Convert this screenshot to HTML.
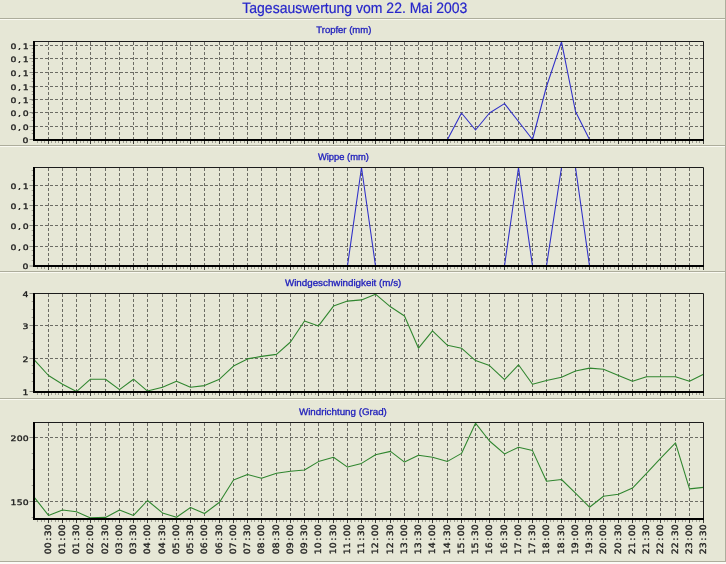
<!DOCTYPE html>
<html lang="de"><head><meta charset="utf-8"><title>Tagesauswertung vom 22. Mai 2003</title>
<style>html,body{margin:0;padding:0;background:#E6E7D6;overflow:hidden}svg{display:block}text{text-rendering:geometricPrecision}</style></head>
<body>
<svg width="726" height="564" viewBox="0 0 726 564">
<rect width="726" height="564" fill="#E6E7D6"/>
<rect x="0" y="18" width="726" height="1" fill="#ADAD9C"/>
<rect x="725" y="0" width="1" height="19" fill="#ADAD9C"/>
<rect x="0" y="19" width="726" height="1" fill="#FAFAF2"/>
<rect x="0" y="145" width="726" height="1" fill="#ADAD9C"/>
<rect x="725" y="19" width="1" height="127" fill="#ADAD9C"/>
<rect x="0" y="146" width="726" height="1" fill="#FAFAF2"/>
<rect x="0" y="271" width="726" height="1" fill="#ADAD9C"/>
<rect x="725" y="146" width="1" height="126" fill="#ADAD9C"/>
<rect x="0" y="272" width="726" height="1" fill="#FAFAF2"/>
<rect x="0" y="398" width="726" height="1" fill="#ADAD9C"/>
<rect x="725" y="272" width="1" height="127" fill="#ADAD9C"/>
<rect x="0" y="399" width="726" height="1" fill="#FAFAF2"/>
<rect x="0" y="561" width="726" height="1" fill="#ADAD9C"/>
<rect x="725" y="399" width="1" height="163" fill="#ADAD9C"/>
<rect x="0" y="562" width="726" height="2" fill="#FBFBF6"/>
<text transform="translate(354.8 13) scale(0.934 1)" text-anchor="middle" font-family="'Liberation Sans', Arial, sans-serif" font-size="15" fill="#2626CA" stroke="#2626CA" stroke-width="0.2">Tagesauswertung vom 22. Mai 2003</text>
<text transform="translate(343.8 33) scale(1.0 1)" text-anchor="middle" font-family="'Liberation Sans', Arial, sans-serif" font-size="9.5" fill="#2020BC" stroke="#2020BC" stroke-width="0.3">Tropfer (mm)</text>
<path d="M48.5 42.0V139.0M62.5 42.0V139.0M76.5 42.0V139.0M90.5 42.0V139.0M105.5 42.0V139.0M119.5 42.0V139.0M133.5 42.0V139.0M147.5 42.0V139.0M162.5 42.0V139.0M176.5 42.0V139.0M190.5 42.0V139.0M204.5 42.0V139.0M219.5 42.0V139.0M233.5 42.0V139.0M247.5 42.0V139.0M261.5 42.0V139.0M276.5 42.0V139.0M290.5 42.0V139.0M304.5 42.0V139.0M318.5 42.0V139.0M333.5 42.0V139.0M347.5 42.0V139.0M361.5 42.0V139.0M375.5 42.0V139.0M390.5 42.0V139.0M404.5 42.0V139.0M418.5 42.0V139.0M432.5 42.0V139.0M447.5 42.0V139.0M461.5 42.0V139.0M475.5 42.0V139.0M489.5 42.0V139.0M504.5 42.0V139.0M518.5 42.0V139.0M532.5 42.0V139.0M546.5 42.0V139.0M561.5 42.0V139.0M575.5 42.0V139.0M589.5 42.0V139.0M603.5 42.0V139.0M618.5 42.0V139.0M632.5 42.0V139.0M646.5 42.0V139.0M660.5 42.0V139.0M675.5 42.0V139.0M689.5 42.0V139.0M35 45.50H703.0M35 58.50H703.0M35 72.50H703.0M35 86.50H703.0M35 99.50H703.0M35 112.50H703.0M35 126.50H703.0" stroke="#6c6c64" stroke-width="1" stroke-dasharray="3 2" fill="none"/>
<path d="M37.5 141.0v2M41.5 141.0v2M44.5 141.0v2M51.5 141.0v2M55.5 141.0v2M58.5 141.0v2M66.5 141.0v2M69.5 141.0v2M73.5 141.0v2M80.5 141.0v2M83.5 141.0v2M87.5 141.0v2M94.5 141.0v2M98.5 141.0v2M101.5 141.0v2M108.5 141.0v2M112.5 141.0v2M115.5 141.0v2M123.5 141.0v2M126.5 141.0v2M130.5 141.0v2M137.5 141.0v2M140.5 141.0v2M144.5 141.0v2M151.5 141.0v2M155.5 141.0v2M158.5 141.0v2M165.5 141.0v2M169.5 141.0v2M172.5 141.0v2M180.5 141.0v2M183.5 141.0v2M187.5 141.0v2M194.5 141.0v2M197.5 141.0v2M201.5 141.0v2M208.5 141.0v2M212.5 141.0v2M215.5 141.0v2M222.5 141.0v2M226.5 141.0v2M229.5 141.0v2M236.5 141.0v2M240.5 141.0v2M244.5 141.0v2M251.5 141.0v2M254.5 141.0v2M258.5 141.0v2M265.5 141.0v2M269.5 141.0v2M272.5 141.0v2M279.5 141.0v2M283.5 141.0v2M286.5 141.0v2M293.5 141.0v2M297.5 141.0v2M301.5 141.0v2M308.5 141.0v2M311.5 141.0v2M315.5 141.0v2M322.5 141.0v2M326.5 141.0v2M329.5 141.0v2M336.5 141.0v2M340.5 141.0v2M343.5 141.0v2M350.5 141.0v2M354.5 141.0v2M358.5 141.0v2M365.5 141.0v2M368.5 141.0v2M372.5 141.0v2M379.5 141.0v2M382.5 141.0v2M386.5 141.0v2M393.5 141.0v2M397.5 141.0v2M400.5 141.0v2M407.5 141.0v2M411.5 141.0v2M415.5 141.0v2M422.5 141.0v2M425.5 141.0v2M429.5 141.0v2M436.5 141.0v2M439.5 141.0v2M443.5 141.0v2M450.5 141.0v2M454.5 141.0v2M457.5 141.0v2M464.5 141.0v2M468.5 141.0v2M472.5 141.0v2M479.5 141.0v2M482.5 141.0v2M486.5 141.0v2M493.5 141.0v2M496.5 141.0v2M500.5 141.0v2M507.5 141.0v2M511.5 141.0v2M514.5 141.0v2M521.5 141.0v2M525.5 141.0v2M529.5 141.0v2M536.5 141.0v2M539.5 141.0v2M543.5 141.0v2M550.5 141.0v2M553.5 141.0v2M557.5 141.0v2M564.5 141.0v2M568.5 141.0v2M571.5 141.0v2M578.5 141.0v2M582.5 141.0v2M585.5 141.0v2M593.5 141.0v2M596.5 141.0v2M600.5 141.0v2M607.5 141.0v2M610.5 141.0v2M614.5 141.0v2M621.5 141.0v2M625.5 141.0v2M628.5 141.0v2M635.5 141.0v2M639.5 141.0v2M642.5 141.0v2M650.5 141.0v2M653.5 141.0v2M657.5 141.0v2M664.5 141.0v2M667.5 141.0v2M671.5 141.0v2M678.5 141.0v2M682.5 141.0v2M685.5 141.0v2M692.5 141.0v2M696.5 141.0v2M699.5 141.0v2M31.7 48.5h1.3M31.7 52.5h1.3M31.7 55.5h1.3M31.7 61.5h1.3M31.7 65.5h1.3M31.7 68.5h1.3M31.7 74.5h1.3M31.7 78.5h1.3M31.7 81.5h1.3M31.7 87.5h1.3M31.7 91.5h1.3M31.7 94.5h1.3M31.7 100.5h1.3M31.7 104.5h1.3M31.7 107.5h1.3M31.7 113.5h1.3M31.7 117.5h1.3M31.7 120.5h1.3M31.7 126.5h1.3M31.7 130.5h1.3M31.7 133.5h1.3" stroke="#a0a094" stroke-width="1" fill="none"/>
<path d="M48.5 141.0v3M62.5 141.0v3M76.5 141.0v3M90.5 141.0v3M105.5 141.0v3M119.5 141.0v3M133.5 141.0v3M147.5 141.0v3M162.5 141.0v3M176.5 141.0v3M190.5 141.0v3M204.5 141.0v3M219.5 141.0v3M233.5 141.0v3M247.5 141.0v3M261.5 141.0v3M276.5 141.0v3M290.5 141.0v3M304.5 141.0v3M318.5 141.0v3M333.5 141.0v3M347.5 141.0v3M361.5 141.0v3M375.5 141.0v3M390.5 141.0v3M404.5 141.0v3M418.5 141.0v3M432.5 141.0v3M447.5 141.0v3M461.5 141.0v3M475.5 141.0v3M489.5 141.0v3M504.5 141.0v3M518.5 141.0v3M532.5 141.0v3M546.5 141.0v3M561.5 141.0v3M575.5 141.0v3M589.5 141.0v3M603.5 141.0v3M618.5 141.0v3M632.5 141.0v3M646.5 141.0v3M660.5 141.0v3M675.5 141.0v3M689.5 141.0v3M703.5 141.0v3" stroke="#3c3c38" stroke-width="1" fill="none"/>
<path d="M29.5 45.50h3.5M29.5 58.50h3.5M29.5 72.50h3.5M29.5 86.50h3.5M29.5 99.50h3.5M29.5 112.50h3.5M29.5 126.50h3.5M29.5 139.50h3.5" stroke="#88887e" stroke-width="1" fill="none"/>
<polyline points="34.5,139.5 48.5,139.5 62.5,139.5 76.5,139.5 90.5,139.5 105.5,139.5 119.5,139.5 133.5,139.5 147.5,139.5 162.5,139.5 176.5,139.5 190.5,139.5 204.5,139.5 219.5,139.5 233.5,139.5 247.5,139.5 261.5,139.5 276.5,139.5 290.5,139.5 304.5,139.5 318.5,139.5 333.5,139.5 347.5,139.5 361.5,139.5 375.5,139.5 390.5,139.5 404.5,139.5 418.5,139.5 432.5,139.5 447.5,139.5 461.5,113.0 475.5,130.0 489.5,113.0 504.5,103.6 518.5,121.5 532.5,139.5 546.5,86.5 561.5,41.8 575.5,111.5 589.5,139.5 603.5,139.5 618.5,139.5 632.5,139.5 646.5,139.5 660.5,139.5 675.5,139.5 689.5,139.5 703.5,139.5" stroke="#3030C8" stroke-width="1.085" fill="none" stroke-linejoin="round"/>
<path d="M33 41.5H703.5V140.0" stroke="#1c1c1c" stroke-width="1" fill="none"/>
<rect x="33" y="41.0" width="2" height="100.0" fill="#000"/>
<rect x="33" y="139.0" width="671.0" height="2" fill="#000"/>
<text transform="translate(10.60 48.55) scale(1.24 1)" x="0.03 6.07 9.71" font-family="'DejaVu Sans', 'Liberation Sans', sans-serif" font-size="7.5" fill="#1a1a1a" stroke="#1a1a1a" stroke-width="0.32">0,1</text>
<text transform="translate(10.60 61.55) scale(1.24 1)" x="0.03 6.07 9.71" font-family="'DejaVu Sans', 'Liberation Sans', sans-serif" font-size="7.5" fill="#1a1a1a" stroke="#1a1a1a" stroke-width="0.32">0,1</text>
<text transform="translate(10.60 75.55) scale(1.24 1)" x="0.03 6.07 9.71" font-family="'DejaVu Sans', 'Liberation Sans', sans-serif" font-size="7.5" fill="#1a1a1a" stroke="#1a1a1a" stroke-width="0.32">0,1</text>
<text transform="translate(10.60 89.55) scale(1.24 1)" x="0.03 6.07 9.71" font-family="'DejaVu Sans', 'Liberation Sans', sans-serif" font-size="7.5" fill="#1a1a1a" stroke="#1a1a1a" stroke-width="0.32">0,1</text>
<text transform="translate(10.60 102.55) scale(1.24 1)" x="0.03 6.07 9.71" font-family="'DejaVu Sans', 'Liberation Sans', sans-serif" font-size="7.5" fill="#1a1a1a" stroke="#1a1a1a" stroke-width="0.32">0,1</text>
<text transform="translate(10.60 115.55) scale(1.24 1)" x="0.03 6.07 9.71" font-family="'DejaVu Sans', 'Liberation Sans', sans-serif" font-size="7.5" fill="#1a1a1a" stroke="#1a1a1a" stroke-width="0.32">0,0</text>
<text transform="translate(10.60 129.55) scale(1.24 1)" x="0.03 6.07 9.71" font-family="'DejaVu Sans', 'Liberation Sans', sans-serif" font-size="7.5" fill="#1a1a1a" stroke="#1a1a1a" stroke-width="0.32">0,0</text>
<text transform="translate(22.60 142.55) scale(1.24 1)" x="0.03" font-family="'DejaVu Sans', 'Liberation Sans', sans-serif" font-size="7.5" fill="#1a1a1a" stroke="#1a1a1a" stroke-width="0.32">0</text>
<text transform="translate(343.4 159.8) scale(0.985 1)" text-anchor="middle" font-family="'Liberation Sans', Arial, sans-serif" font-size="9.5" fill="#2020BC" stroke="#2020BC" stroke-width="0.3">Wippe (mm)</text>
<path d="M48.5 168.0V265.0M62.5 168.0V265.0M76.5 168.0V265.0M90.5 168.0V265.0M105.5 168.0V265.0M119.5 168.0V265.0M133.5 168.0V265.0M147.5 168.0V265.0M162.5 168.0V265.0M176.5 168.0V265.0M190.5 168.0V265.0M204.5 168.0V265.0M219.5 168.0V265.0M233.5 168.0V265.0M247.5 168.0V265.0M261.5 168.0V265.0M276.5 168.0V265.0M290.5 168.0V265.0M304.5 168.0V265.0M318.5 168.0V265.0M333.5 168.0V265.0M347.5 168.0V265.0M361.5 168.0V265.0M375.5 168.0V265.0M390.5 168.0V265.0M404.5 168.0V265.0M418.5 168.0V265.0M432.5 168.0V265.0M447.5 168.0V265.0M461.5 168.0V265.0M475.5 168.0V265.0M489.5 168.0V265.0M504.5 168.0V265.0M518.5 168.0V265.0M532.5 168.0V265.0M546.5 168.0V265.0M561.5 168.0V265.0M575.5 168.0V265.0M589.5 168.0V265.0M603.5 168.0V265.0M618.5 168.0V265.0M632.5 168.0V265.0M646.5 168.0V265.0M660.5 168.0V265.0M675.5 168.0V265.0M689.5 168.0V265.0M35 185.50H703.0M35 205.50H703.0M35 225.50H703.0M35 246.50H703.0" stroke="#6c6c64" stroke-width="1" stroke-dasharray="3 2" fill="none"/>
<path d="M37.5 267.0v2M41.5 267.0v2M44.5 267.0v2M51.5 267.0v2M55.5 267.0v2M58.5 267.0v2M66.5 267.0v2M69.5 267.0v2M73.5 267.0v2M80.5 267.0v2M83.5 267.0v2M87.5 267.0v2M94.5 267.0v2M98.5 267.0v2M101.5 267.0v2M108.5 267.0v2M112.5 267.0v2M115.5 267.0v2M123.5 267.0v2M126.5 267.0v2M130.5 267.0v2M137.5 267.0v2M140.5 267.0v2M144.5 267.0v2M151.5 267.0v2M155.5 267.0v2M158.5 267.0v2M165.5 267.0v2M169.5 267.0v2M172.5 267.0v2M180.5 267.0v2M183.5 267.0v2M187.5 267.0v2M194.5 267.0v2M197.5 267.0v2M201.5 267.0v2M208.5 267.0v2M212.5 267.0v2M215.5 267.0v2M222.5 267.0v2M226.5 267.0v2M229.5 267.0v2M236.5 267.0v2M240.5 267.0v2M244.5 267.0v2M251.5 267.0v2M254.5 267.0v2M258.5 267.0v2M265.5 267.0v2M269.5 267.0v2M272.5 267.0v2M279.5 267.0v2M283.5 267.0v2M286.5 267.0v2M293.5 267.0v2M297.5 267.0v2M301.5 267.0v2M308.5 267.0v2M311.5 267.0v2M315.5 267.0v2M322.5 267.0v2M326.5 267.0v2M329.5 267.0v2M336.5 267.0v2M340.5 267.0v2M343.5 267.0v2M350.5 267.0v2M354.5 267.0v2M358.5 267.0v2M365.5 267.0v2M368.5 267.0v2M372.5 267.0v2M379.5 267.0v2M382.5 267.0v2M386.5 267.0v2M393.5 267.0v2M397.5 267.0v2M400.5 267.0v2M407.5 267.0v2M411.5 267.0v2M415.5 267.0v2M422.5 267.0v2M425.5 267.0v2M429.5 267.0v2M436.5 267.0v2M439.5 267.0v2M443.5 267.0v2M450.5 267.0v2M454.5 267.0v2M457.5 267.0v2M464.5 267.0v2M468.5 267.0v2M472.5 267.0v2M479.5 267.0v2M482.5 267.0v2M486.5 267.0v2M493.5 267.0v2M496.5 267.0v2M500.5 267.0v2M507.5 267.0v2M511.5 267.0v2M514.5 267.0v2M521.5 267.0v2M525.5 267.0v2M529.5 267.0v2M536.5 267.0v2M539.5 267.0v2M543.5 267.0v2M550.5 267.0v2M553.5 267.0v2M557.5 267.0v2M564.5 267.0v2M568.5 267.0v2M571.5 267.0v2M578.5 267.0v2M582.5 267.0v2M585.5 267.0v2M593.5 267.0v2M596.5 267.0v2M600.5 267.0v2M607.5 267.0v2M610.5 267.0v2M614.5 267.0v2M621.5 267.0v2M625.5 267.0v2M628.5 267.0v2M635.5 267.0v2M639.5 267.0v2M642.5 267.0v2M650.5 267.0v2M653.5 267.0v2M657.5 267.0v2M664.5 267.0v2M667.5 267.0v2M671.5 267.0v2M678.5 267.0v2M682.5 267.0v2M685.5 267.0v2M692.5 267.0v2M696.5 267.0v2M699.5 267.0v2M31.7 180.5h1.3M31.7 175.5h1.3M31.7 170.5h1.3M31.7 190.5h1.3M31.7 195.5h1.3M31.7 200.5h1.3M31.7 210.5h1.3M31.7 215.5h1.3M31.7 220.5h1.3M31.7 230.5h1.3M31.7 235.5h1.3M31.7 240.5h1.3M31.7 250.5h1.3M31.7 255.5h1.3M31.7 260.5h1.3" stroke="#a0a094" stroke-width="1" fill="none"/>
<path d="M48.5 267.0v3M62.5 267.0v3M76.5 267.0v3M90.5 267.0v3M105.5 267.0v3M119.5 267.0v3M133.5 267.0v3M147.5 267.0v3M162.5 267.0v3M176.5 267.0v3M190.5 267.0v3M204.5 267.0v3M219.5 267.0v3M233.5 267.0v3M247.5 267.0v3M261.5 267.0v3M276.5 267.0v3M290.5 267.0v3M304.5 267.0v3M318.5 267.0v3M333.5 267.0v3M347.5 267.0v3M361.5 267.0v3M375.5 267.0v3M390.5 267.0v3M404.5 267.0v3M418.5 267.0v3M432.5 267.0v3M447.5 267.0v3M461.5 267.0v3M475.5 267.0v3M489.5 267.0v3M504.5 267.0v3M518.5 267.0v3M532.5 267.0v3M546.5 267.0v3M561.5 267.0v3M575.5 267.0v3M589.5 267.0v3M603.5 267.0v3M618.5 267.0v3M632.5 267.0v3M646.5 267.0v3M660.5 267.0v3M675.5 267.0v3M689.5 267.0v3M703.5 267.0v3" stroke="#3c3c38" stroke-width="1" fill="none"/>
<path d="M29.5 185.50h3.5M29.5 205.50h3.5M29.5 225.50h3.5M29.5 246.50h3.5M29.5 266.00h3.5" stroke="#88887e" stroke-width="1" fill="none"/>
<polyline points="34.5,265.8 48.5,265.8 62.5,265.8 76.5,265.8 90.5,265.8 105.5,265.8 119.5,265.8 133.5,265.8 147.5,265.8 162.5,265.8 176.5,265.8 190.5,265.8 204.5,265.8 219.5,265.8 233.5,265.8 247.5,265.8 261.5,265.8 276.5,265.8 290.5,265.8 304.5,265.8 318.5,265.8 333.5,265.8 347.5,265.8 361.5,167.5 375.5,265.8 390.5,265.8 404.5,265.8 418.5,265.8 432.5,265.8 447.5,265.8 461.5,265.8 475.5,265.8 489.5,265.8 504.5,265.8 518.5,167.5 532.5,265.8 546.5,265.8 561.5,167.5 575.5,167.5 589.5,265.8 603.5,265.8 618.5,265.8 632.5,265.8 646.5,265.8 660.5,265.8 675.5,265.8 689.5,265.8 703.5,265.8" stroke="#3030C8" stroke-width="1.08" fill="none" stroke-linejoin="round"/>
<path d="M33 167.5H703.5V266.0" stroke="#1c1c1c" stroke-width="1" fill="none"/>
<rect x="33" y="167.0" width="2" height="100.0" fill="#000"/>
<rect x="33" y="265.0" width="671.0" height="2" fill="#000"/>
<text transform="translate(10.60 188.55) scale(1.24 1)" x="0.03 6.07 9.71" font-family="'DejaVu Sans', 'Liberation Sans', sans-serif" font-size="7.5" fill="#1a1a1a" stroke="#1a1a1a" stroke-width="0.32">0,1</text>
<text transform="translate(10.60 208.55) scale(1.24 1)" x="0.03 6.07 9.71" font-family="'DejaVu Sans', 'Liberation Sans', sans-serif" font-size="7.5" fill="#1a1a1a" stroke="#1a1a1a" stroke-width="0.32">0,1</text>
<text transform="translate(10.60 228.55) scale(1.24 1)" x="0.03 6.07 9.71" font-family="'DejaVu Sans', 'Liberation Sans', sans-serif" font-size="7.5" fill="#1a1a1a" stroke="#1a1a1a" stroke-width="0.32">0,0</text>
<text transform="translate(10.60 249.55) scale(1.24 1)" x="0.03 6.07 9.71" font-family="'DejaVu Sans', 'Liberation Sans', sans-serif" font-size="7.5" fill="#1a1a1a" stroke="#1a1a1a" stroke-width="0.32">0,0</text>
<text transform="translate(22.60 269.05) scale(1.24 1)" x="0.03" font-family="'DejaVu Sans', 'Liberation Sans', sans-serif" font-size="7.5" fill="#1a1a1a" stroke="#1a1a1a" stroke-width="0.32">0</text>
<text transform="translate(343.1 286) scale(1.03 1)" text-anchor="middle" font-family="'Liberation Sans', Arial, sans-serif" font-size="9.5" fill="#2020BC" stroke="#2020BC" stroke-width="0.3">Windgeschwindigkeit (m/s)</text>
<path d="M48.5 294.0V391.0M62.5 294.0V391.0M76.5 294.0V391.0M90.5 294.0V391.0M105.5 294.0V391.0M119.5 294.0V391.0M133.5 294.0V391.0M147.5 294.0V391.0M162.5 294.0V391.0M176.5 294.0V391.0M190.5 294.0V391.0M204.5 294.0V391.0M219.5 294.0V391.0M233.5 294.0V391.0M247.5 294.0V391.0M261.5 294.0V391.0M276.5 294.0V391.0M290.5 294.0V391.0M304.5 294.0V391.0M318.5 294.0V391.0M333.5 294.0V391.0M347.5 294.0V391.0M361.5 294.0V391.0M375.5 294.0V391.0M390.5 294.0V391.0M404.5 294.0V391.0M418.5 294.0V391.0M432.5 294.0V391.0M447.5 294.0V391.0M461.5 294.0V391.0M475.5 294.0V391.0M489.5 294.0V391.0M504.5 294.0V391.0M518.5 294.0V391.0M532.5 294.0V391.0M546.5 294.0V391.0M561.5 294.0V391.0M575.5 294.0V391.0M589.5 294.0V391.0M603.5 294.0V391.0M618.5 294.0V391.0M632.5 294.0V391.0M646.5 294.0V391.0M660.5 294.0V391.0M675.5 294.0V391.0M689.5 294.0V391.0M35 325.50H703.0M35 358.50H703.0" stroke="#6c6c64" stroke-width="1" stroke-dasharray="3 2" fill="none"/>
<path d="M37.5 393.0v2M41.5 393.0v2M44.5 393.0v2M51.5 393.0v2M55.5 393.0v2M58.5 393.0v2M66.5 393.0v2M69.5 393.0v2M73.5 393.0v2M80.5 393.0v2M83.5 393.0v2M87.5 393.0v2M94.5 393.0v2M98.5 393.0v2M101.5 393.0v2M108.5 393.0v2M112.5 393.0v2M115.5 393.0v2M123.5 393.0v2M126.5 393.0v2M130.5 393.0v2M137.5 393.0v2M140.5 393.0v2M144.5 393.0v2M151.5 393.0v2M155.5 393.0v2M158.5 393.0v2M165.5 393.0v2M169.5 393.0v2M172.5 393.0v2M180.5 393.0v2M183.5 393.0v2M187.5 393.0v2M194.5 393.0v2M197.5 393.0v2M201.5 393.0v2M208.5 393.0v2M212.5 393.0v2M215.5 393.0v2M222.5 393.0v2M226.5 393.0v2M229.5 393.0v2M236.5 393.0v2M240.5 393.0v2M244.5 393.0v2M251.5 393.0v2M254.5 393.0v2M258.5 393.0v2M265.5 393.0v2M269.5 393.0v2M272.5 393.0v2M279.5 393.0v2M283.5 393.0v2M286.5 393.0v2M293.5 393.0v2M297.5 393.0v2M301.5 393.0v2M308.5 393.0v2M311.5 393.0v2M315.5 393.0v2M322.5 393.0v2M326.5 393.0v2M329.5 393.0v2M336.5 393.0v2M340.5 393.0v2M343.5 393.0v2M350.5 393.0v2M354.5 393.0v2M358.5 393.0v2M365.5 393.0v2M368.5 393.0v2M372.5 393.0v2M379.5 393.0v2M382.5 393.0v2M386.5 393.0v2M393.5 393.0v2M397.5 393.0v2M400.5 393.0v2M407.5 393.0v2M411.5 393.0v2M415.5 393.0v2M422.5 393.0v2M425.5 393.0v2M429.5 393.0v2M436.5 393.0v2M439.5 393.0v2M443.5 393.0v2M450.5 393.0v2M454.5 393.0v2M457.5 393.0v2M464.5 393.0v2M468.5 393.0v2M472.5 393.0v2M479.5 393.0v2M482.5 393.0v2M486.5 393.0v2M493.5 393.0v2M496.5 393.0v2M500.5 393.0v2M507.5 393.0v2M511.5 393.0v2M514.5 393.0v2M521.5 393.0v2M525.5 393.0v2M529.5 393.0v2M536.5 393.0v2M539.5 393.0v2M543.5 393.0v2M550.5 393.0v2M553.5 393.0v2M557.5 393.0v2M564.5 393.0v2M568.5 393.0v2M571.5 393.0v2M578.5 393.0v2M582.5 393.0v2M585.5 393.0v2M593.5 393.0v2M596.5 393.0v2M600.5 393.0v2M607.5 393.0v2M610.5 393.0v2M614.5 393.0v2M621.5 393.0v2M625.5 393.0v2M628.5 393.0v2M635.5 393.0v2M639.5 393.0v2M642.5 393.0v2M650.5 393.0v2M653.5 393.0v2M657.5 393.0v2M664.5 393.0v2M667.5 393.0v2M671.5 393.0v2M678.5 393.0v2M682.5 393.0v2M685.5 393.0v2M692.5 393.0v2M696.5 393.0v2M699.5 393.0v2M31.7 301.5h1.3M31.7 309.5h1.3M31.7 317.5h1.3M31.7 333.5h1.3M31.7 341.5h1.3M31.7 349.5h1.3M31.7 365.5h1.3M31.7 373.5h1.3M31.7 381.5h1.3" stroke="#a0a094" stroke-width="1" fill="none"/>
<path d="M48.5 393.0v3M62.5 393.0v3M76.5 393.0v3M90.5 393.0v3M105.5 393.0v3M119.5 393.0v3M133.5 393.0v3M147.5 393.0v3M162.5 393.0v3M176.5 393.0v3M190.5 393.0v3M204.5 393.0v3M219.5 393.0v3M233.5 393.0v3M247.5 393.0v3M261.5 393.0v3M276.5 393.0v3M290.5 393.0v3M304.5 393.0v3M318.5 393.0v3M333.5 393.0v3M347.5 393.0v3M361.5 393.0v3M375.5 393.0v3M390.5 393.0v3M404.5 393.0v3M418.5 393.0v3M432.5 393.0v3M447.5 393.0v3M461.5 393.0v3M475.5 393.0v3M489.5 393.0v3M504.5 393.0v3M518.5 393.0v3M532.5 393.0v3M546.5 393.0v3M561.5 393.0v3M575.5 393.0v3M589.5 393.0v3M603.5 393.0v3M618.5 393.0v3M632.5 393.0v3M646.5 393.0v3M660.5 393.0v3M675.5 393.0v3M689.5 393.0v3M703.5 393.0v3" stroke="#3c3c38" stroke-width="1" fill="none"/>
<path d="M29.5 293.50h3.5M29.5 325.50h3.5M29.5 358.50h3.5M29.5 391.50h3.5" stroke="#88887e" stroke-width="1" fill="none"/>
<polyline points="34.5,360.1 48.5,375.5 62.5,384.2 76.5,391.6 90.5,379.2 105.5,379.2 119.5,389.6 133.5,379.2 147.5,391.1 162.5,387.2 176.5,381.2 190.5,387.2 204.5,385.6 219.5,379.2 233.5,366.1 247.5,358.9 261.5,356.4 276.5,354.4 290.5,342.0 304.5,321.0 318.5,325.9 333.5,306.1 347.5,301.1 361.5,299.9 375.5,294.2 390.5,306.8 404.5,316.0 418.5,348.2 432.5,330.9 447.5,345.3 461.5,348.2 475.5,360.6 489.5,365.6 504.5,379.7 518.5,364.8 532.5,384.2 546.5,380.5 561.5,377.2 575.5,371.0 589.5,368.1 603.5,369.3 618.5,375.5 632.5,381.2 646.5,376.7 660.5,376.7 675.5,376.7 689.5,381.2 703.5,374.3" stroke="#30862F" stroke-width="1.08" fill="none" stroke-linejoin="round"/>
<path d="M33 293.5H703.5V392.0" stroke="#1c1c1c" stroke-width="1" fill="none"/>
<rect x="33" y="293.0" width="2" height="100.0" fill="#000"/>
<rect x="33" y="391.0" width="671.0" height="2" fill="#000"/>
<text transform="translate(22.60 296.55) scale(1.24 1)" x="0.03" font-family="'DejaVu Sans', 'Liberation Sans', sans-serif" font-size="7.5" fill="#1a1a1a" stroke="#1a1a1a" stroke-width="0.32">4</text>
<text transform="translate(22.60 328.55) scale(1.24 1)" x="0.03" font-family="'DejaVu Sans', 'Liberation Sans', sans-serif" font-size="7.5" fill="#1a1a1a" stroke="#1a1a1a" stroke-width="0.32">3</text>
<text transform="translate(22.60 361.55) scale(1.24 1)" x="0.03" font-family="'DejaVu Sans', 'Liberation Sans', sans-serif" font-size="7.5" fill="#1a1a1a" stroke="#1a1a1a" stroke-width="0.32">2</text>
<text transform="translate(22.60 394.55) scale(1.24 1)" x="0.03" font-family="'DejaVu Sans', 'Liberation Sans', sans-serif" font-size="7.5" fill="#1a1a1a" stroke="#1a1a1a" stroke-width="0.32">1</text>
<text transform="translate(342.9 415) scale(1.027 1)" text-anchor="middle" font-family="'Liberation Sans', Arial, sans-serif" font-size="9.5" fill="#2020BC" stroke="#2020BC" stroke-width="0.3">Windrichtung (Grad)</text>
<path d="M48.5 423.0V518.0M62.5 423.0V518.0M76.5 423.0V518.0M90.5 423.0V518.0M105.5 423.0V518.0M119.5 423.0V518.0M133.5 423.0V518.0M147.5 423.0V518.0M162.5 423.0V518.0M176.5 423.0V518.0M190.5 423.0V518.0M204.5 423.0V518.0M219.5 423.0V518.0M233.5 423.0V518.0M247.5 423.0V518.0M261.5 423.0V518.0M276.5 423.0V518.0M290.5 423.0V518.0M304.5 423.0V518.0M318.5 423.0V518.0M333.5 423.0V518.0M347.5 423.0V518.0M361.5 423.0V518.0M375.5 423.0V518.0M390.5 423.0V518.0M404.5 423.0V518.0M418.5 423.0V518.0M432.5 423.0V518.0M447.5 423.0V518.0M461.5 423.0V518.0M475.5 423.0V518.0M489.5 423.0V518.0M504.5 423.0V518.0M518.5 423.0V518.0M532.5 423.0V518.0M546.5 423.0V518.0M561.5 423.0V518.0M575.5 423.0V518.0M589.5 423.0V518.0M603.5 423.0V518.0M618.5 423.0V518.0M632.5 423.0V518.0M646.5 423.0V518.0M660.5 423.0V518.0M675.5 423.0V518.0M689.5 423.0V518.0M35 437.50H703.0M35 501.50H703.0" stroke="#6c6c64" stroke-width="1" stroke-dasharray="3 2" fill="none"/>
<path d="M37.5 520.0v2M41.5 520.0v2M44.5 520.0v2M51.5 520.0v2M55.5 520.0v2M58.5 520.0v2M66.5 520.0v2M69.5 520.0v2M73.5 520.0v2M80.5 520.0v2M83.5 520.0v2M87.5 520.0v2M94.5 520.0v2M98.5 520.0v2M101.5 520.0v2M108.5 520.0v2M112.5 520.0v2M115.5 520.0v2M123.5 520.0v2M126.5 520.0v2M130.5 520.0v2M137.5 520.0v2M140.5 520.0v2M144.5 520.0v2M151.5 520.0v2M155.5 520.0v2M158.5 520.0v2M165.5 520.0v2M169.5 520.0v2M172.5 520.0v2M180.5 520.0v2M183.5 520.0v2M187.5 520.0v2M194.5 520.0v2M197.5 520.0v2M201.5 520.0v2M208.5 520.0v2M212.5 520.0v2M215.5 520.0v2M222.5 520.0v2M226.5 520.0v2M229.5 520.0v2M236.5 520.0v2M240.5 520.0v2M244.5 520.0v2M251.5 520.0v2M254.5 520.0v2M258.5 520.0v2M265.5 520.0v2M269.5 520.0v2M272.5 520.0v2M279.5 520.0v2M283.5 520.0v2M286.5 520.0v2M293.5 520.0v2M297.5 520.0v2M301.5 520.0v2M308.5 520.0v2M311.5 520.0v2M315.5 520.0v2M322.5 520.0v2M326.5 520.0v2M329.5 520.0v2M336.5 520.0v2M340.5 520.0v2M343.5 520.0v2M350.5 520.0v2M354.5 520.0v2M358.5 520.0v2M365.5 520.0v2M368.5 520.0v2M372.5 520.0v2M379.5 520.0v2M382.5 520.0v2M386.5 520.0v2M393.5 520.0v2M397.5 520.0v2M400.5 520.0v2M407.5 520.0v2M411.5 520.0v2M415.5 520.0v2M422.5 520.0v2M425.5 520.0v2M429.5 520.0v2M436.5 520.0v2M439.5 520.0v2M443.5 520.0v2M450.5 520.0v2M454.5 520.0v2M457.5 520.0v2M464.5 520.0v2M468.5 520.0v2M472.5 520.0v2M479.5 520.0v2M482.5 520.0v2M486.5 520.0v2M493.5 520.0v2M496.5 520.0v2M500.5 520.0v2M507.5 520.0v2M511.5 520.0v2M514.5 520.0v2M521.5 520.0v2M525.5 520.0v2M529.5 520.0v2M536.5 520.0v2M539.5 520.0v2M543.5 520.0v2M550.5 520.0v2M553.5 520.0v2M557.5 520.0v2M564.5 520.0v2M568.5 520.0v2M571.5 520.0v2M578.5 520.0v2M582.5 520.0v2M585.5 520.0v2M593.5 520.0v2M596.5 520.0v2M600.5 520.0v2M607.5 520.0v2M610.5 520.0v2M614.5 520.0v2M621.5 520.0v2M625.5 520.0v2M628.5 520.0v2M635.5 520.0v2M639.5 520.0v2M642.5 520.0v2M650.5 520.0v2M653.5 520.0v2M657.5 520.0v2M664.5 520.0v2M667.5 520.0v2M671.5 520.0v2M678.5 520.0v2M682.5 520.0v2M685.5 520.0v2M692.5 520.0v2M696.5 520.0v2M699.5 520.0v2M31.7 453.5h1.3M31.7 469.5h1.3M31.7 485.5h1.3M31.7 517.5h1.3" stroke="#a0a094" stroke-width="1" fill="none"/>
<path d="M48.5 520.0v3M62.5 520.0v3M76.5 520.0v3M90.5 520.0v3M105.5 520.0v3M119.5 520.0v3M133.5 520.0v3M147.5 520.0v3M162.5 520.0v3M176.5 520.0v3M190.5 520.0v3M204.5 520.0v3M219.5 520.0v3M233.5 520.0v3M247.5 520.0v3M261.5 520.0v3M276.5 520.0v3M290.5 520.0v3M304.5 520.0v3M318.5 520.0v3M333.5 520.0v3M347.5 520.0v3M361.5 520.0v3M375.5 520.0v3M390.5 520.0v3M404.5 520.0v3M418.5 520.0v3M432.5 520.0v3M447.5 520.0v3M461.5 520.0v3M475.5 520.0v3M489.5 520.0v3M504.5 520.0v3M518.5 520.0v3M532.5 520.0v3M546.5 520.0v3M561.5 520.0v3M575.5 520.0v3M589.5 520.0v3M603.5 520.0v3M618.5 520.0v3M632.5 520.0v3M646.5 520.0v3M660.5 520.0v3M675.5 520.0v3M689.5 520.0v3M703.5 520.0v3" stroke="#3c3c38" stroke-width="1" fill="none"/>
<path d="M29.5 437.50h3.5M29.5 501.50h3.5" stroke="#88887e" stroke-width="1" fill="none"/>
<polyline points="34.5,497.6 48.5,515.4 62.5,510.0 76.5,511.7 90.5,517.9 105.5,517.4 119.5,510.0 133.5,515.4 147.5,500.5 162.5,512.9 176.5,517.2 190.5,507.5 204.5,513.5 219.5,502.3 233.5,480.0 247.5,474.5 261.5,478.2 276.5,473.3 290.5,471.3 304.5,470.0 318.5,461.6 333.5,457.2 347.5,467.1 361.5,463.4 375.5,454.7 390.5,451.4 404.5,462.1 418.5,455.2 432.5,457.2 447.5,461.4 461.5,453.4 475.5,423.2 489.5,441.0 504.5,453.9 518.5,447.2 532.5,450.6 546.5,481.2 561.5,479.5 575.5,493.1 589.5,507.2 603.5,496.3 618.5,494.3 632.5,488.1 646.5,473.3 660.5,458.4 675.5,442.8 689.5,488.9 703.5,487.4" stroke="#30862F" stroke-width="1.08" fill="none" stroke-linejoin="round"/>
<path d="M33 422.5H703.5V519.0" stroke="#1c1c1c" stroke-width="1" fill="none"/>
<rect x="33" y="422.0" width="2" height="98.0" fill="#000"/>
<rect x="33" y="518.0" width="671.0" height="2" fill="#000"/>
<text transform="translate(10.60 440.55) scale(1.24 1)" x="0.03 4.87 9.71" font-family="'DejaVu Sans', 'Liberation Sans', sans-serif" font-size="7.5" fill="#1a1a1a" stroke="#1a1a1a" stroke-width="0.32">200</text>
<text transform="translate(10.60 504.55) scale(1.24 1)" x="0.03 4.87 9.71" font-family="'DejaVu Sans', 'Liberation Sans', sans-serif" font-size="7.5" fill="#1a1a1a" stroke="#1a1a1a" stroke-width="0.32">150</text>
<text transform="translate(50.80 554.3) rotate(-90) scale(1.07 1)" x="0.04 5.64 12.55 16.86 22.47" font-family="'DejaVu Sans', 'Liberation Sans', sans-serif" font-size="8.7" fill="#1a1a1a" stroke="#1a1a1a" stroke-width="0.32">00:30</text>
<text transform="translate(64.80 554.3) rotate(-90) scale(1.07 1)" x="0.04 5.64 12.55 16.86 22.47" font-family="'DejaVu Sans', 'Liberation Sans', sans-serif" font-size="8.7" fill="#1a1a1a" stroke="#1a1a1a" stroke-width="0.32">01:00</text>
<text transform="translate(78.80 554.3) rotate(-90) scale(1.07 1)" x="0.04 5.64 12.55 16.86 22.47" font-family="'DejaVu Sans', 'Liberation Sans', sans-serif" font-size="8.7" fill="#1a1a1a" stroke="#1a1a1a" stroke-width="0.32">01:30</text>
<text transform="translate(92.80 554.3) rotate(-90) scale(1.07 1)" x="0.04 5.64 12.55 16.86 22.47" font-family="'DejaVu Sans', 'Liberation Sans', sans-serif" font-size="8.7" fill="#1a1a1a" stroke="#1a1a1a" stroke-width="0.32">02:00</text>
<text transform="translate(107.80 554.3) rotate(-90) scale(1.07 1)" x="0.04 5.64 12.55 16.86 22.47" font-family="'DejaVu Sans', 'Liberation Sans', sans-serif" font-size="8.7" fill="#1a1a1a" stroke="#1a1a1a" stroke-width="0.32">02:30</text>
<text transform="translate(121.80 554.3) rotate(-90) scale(1.07 1)" x="0.04 5.64 12.55 16.86 22.47" font-family="'DejaVu Sans', 'Liberation Sans', sans-serif" font-size="8.7" fill="#1a1a1a" stroke="#1a1a1a" stroke-width="0.32">03:00</text>
<text transform="translate(135.80 554.3) rotate(-90) scale(1.07 1)" x="0.04 5.64 12.55 16.86 22.47" font-family="'DejaVu Sans', 'Liberation Sans', sans-serif" font-size="8.7" fill="#1a1a1a" stroke="#1a1a1a" stroke-width="0.32">03:30</text>
<text transform="translate(149.80 554.3) rotate(-90) scale(1.07 1)" x="0.04 5.64 12.55 16.86 22.47" font-family="'DejaVu Sans', 'Liberation Sans', sans-serif" font-size="8.7" fill="#1a1a1a" stroke="#1a1a1a" stroke-width="0.32">04:00</text>
<text transform="translate(164.80 554.3) rotate(-90) scale(1.07 1)" x="0.04 5.64 12.55 16.86 22.47" font-family="'DejaVu Sans', 'Liberation Sans', sans-serif" font-size="8.7" fill="#1a1a1a" stroke="#1a1a1a" stroke-width="0.32">04:30</text>
<text transform="translate(178.80 554.3) rotate(-90) scale(1.07 1)" x="0.04 5.64 12.55 16.86 22.47" font-family="'DejaVu Sans', 'Liberation Sans', sans-serif" font-size="8.7" fill="#1a1a1a" stroke="#1a1a1a" stroke-width="0.32">05:00</text>
<text transform="translate(192.80 554.3) rotate(-90) scale(1.07 1)" x="0.04 5.64 12.55 16.86 22.47" font-family="'DejaVu Sans', 'Liberation Sans', sans-serif" font-size="8.7" fill="#1a1a1a" stroke="#1a1a1a" stroke-width="0.32">05:30</text>
<text transform="translate(206.80 554.3) rotate(-90) scale(1.07 1)" x="0.04 5.64 12.55 16.86 22.47" font-family="'DejaVu Sans', 'Liberation Sans', sans-serif" font-size="8.7" fill="#1a1a1a" stroke="#1a1a1a" stroke-width="0.32">06:00</text>
<text transform="translate(221.80 554.3) rotate(-90) scale(1.07 1)" x="0.04 5.64 12.55 16.86 22.47" font-family="'DejaVu Sans', 'Liberation Sans', sans-serif" font-size="8.7" fill="#1a1a1a" stroke="#1a1a1a" stroke-width="0.32">06:30</text>
<text transform="translate(235.80 554.3) rotate(-90) scale(1.07 1)" x="0.04 5.64 12.55 16.86 22.47" font-family="'DejaVu Sans', 'Liberation Sans', sans-serif" font-size="8.7" fill="#1a1a1a" stroke="#1a1a1a" stroke-width="0.32">07:00</text>
<text transform="translate(249.80 554.3) rotate(-90) scale(1.07 1)" x="0.04 5.64 12.55 16.86 22.47" font-family="'DejaVu Sans', 'Liberation Sans', sans-serif" font-size="8.7" fill="#1a1a1a" stroke="#1a1a1a" stroke-width="0.32">07:30</text>
<text transform="translate(263.80 554.3) rotate(-90) scale(1.07 1)" x="0.04 5.64 12.55 16.86 22.47" font-family="'DejaVu Sans', 'Liberation Sans', sans-serif" font-size="8.7" fill="#1a1a1a" stroke="#1a1a1a" stroke-width="0.32">08:00</text>
<text transform="translate(278.80 554.3) rotate(-90) scale(1.07 1)" x="0.04 5.64 12.55 16.86 22.47" font-family="'DejaVu Sans', 'Liberation Sans', sans-serif" font-size="8.7" fill="#1a1a1a" stroke="#1a1a1a" stroke-width="0.32">08:30</text>
<text transform="translate(292.80 554.3) rotate(-90) scale(1.07 1)" x="0.04 5.64 12.55 16.86 22.47" font-family="'DejaVu Sans', 'Liberation Sans', sans-serif" font-size="8.7" fill="#1a1a1a" stroke="#1a1a1a" stroke-width="0.32">09:00</text>
<text transform="translate(306.80 554.3) rotate(-90) scale(1.07 1)" x="0.04 5.64 12.55 16.86 22.47" font-family="'DejaVu Sans', 'Liberation Sans', sans-serif" font-size="8.7" fill="#1a1a1a" stroke="#1a1a1a" stroke-width="0.32">09:30</text>
<text transform="translate(320.80 554.3) rotate(-90) scale(1.07 1)" x="0.04 5.64 12.55 16.86 22.47" font-family="'DejaVu Sans', 'Liberation Sans', sans-serif" font-size="8.7" fill="#1a1a1a" stroke="#1a1a1a" stroke-width="0.32">10:00</text>
<text transform="translate(335.80 554.3) rotate(-90) scale(1.07 1)" x="0.04 5.64 12.55 16.86 22.47" font-family="'DejaVu Sans', 'Liberation Sans', sans-serif" font-size="8.7" fill="#1a1a1a" stroke="#1a1a1a" stroke-width="0.32">10:30</text>
<text transform="translate(349.80 554.3) rotate(-90) scale(1.07 1)" x="0.04 5.64 12.55 16.86 22.47" font-family="'DejaVu Sans', 'Liberation Sans', sans-serif" font-size="8.7" fill="#1a1a1a" stroke="#1a1a1a" stroke-width="0.32">11:00</text>
<text transform="translate(363.80 554.3) rotate(-90) scale(1.07 1)" x="0.04 5.64 12.55 16.86 22.47" font-family="'DejaVu Sans', 'Liberation Sans', sans-serif" font-size="8.7" fill="#1a1a1a" stroke="#1a1a1a" stroke-width="0.32">11:30</text>
<text transform="translate(377.80 554.3) rotate(-90) scale(1.07 1)" x="0.04 5.64 12.55 16.86 22.47" font-family="'DejaVu Sans', 'Liberation Sans', sans-serif" font-size="8.7" fill="#1a1a1a" stroke="#1a1a1a" stroke-width="0.32">12:00</text>
<text transform="translate(392.80 554.3) rotate(-90) scale(1.07 1)" x="0.04 5.64 12.55 16.86 22.47" font-family="'DejaVu Sans', 'Liberation Sans', sans-serif" font-size="8.7" fill="#1a1a1a" stroke="#1a1a1a" stroke-width="0.32">12:30</text>
<text transform="translate(406.80 554.3) rotate(-90) scale(1.07 1)" x="0.04 5.64 12.55 16.86 22.47" font-family="'DejaVu Sans', 'Liberation Sans', sans-serif" font-size="8.7" fill="#1a1a1a" stroke="#1a1a1a" stroke-width="0.32">13:00</text>
<text transform="translate(420.80 554.3) rotate(-90) scale(1.07 1)" x="0.04 5.64 12.55 16.86 22.47" font-family="'DejaVu Sans', 'Liberation Sans', sans-serif" font-size="8.7" fill="#1a1a1a" stroke="#1a1a1a" stroke-width="0.32">13:30</text>
<text transform="translate(434.80 554.3) rotate(-90) scale(1.07 1)" x="0.04 5.64 12.55 16.86 22.47" font-family="'DejaVu Sans', 'Liberation Sans', sans-serif" font-size="8.7" fill="#1a1a1a" stroke="#1a1a1a" stroke-width="0.32">14:00</text>
<text transform="translate(449.80 554.3) rotate(-90) scale(1.07 1)" x="0.04 5.64 12.55 16.86 22.47" font-family="'DejaVu Sans', 'Liberation Sans', sans-serif" font-size="8.7" fill="#1a1a1a" stroke="#1a1a1a" stroke-width="0.32">14:30</text>
<text transform="translate(463.80 554.3) rotate(-90) scale(1.07 1)" x="0.04 5.64 12.55 16.86 22.47" font-family="'DejaVu Sans', 'Liberation Sans', sans-serif" font-size="8.7" fill="#1a1a1a" stroke="#1a1a1a" stroke-width="0.32">15:00</text>
<text transform="translate(477.80 554.3) rotate(-90) scale(1.07 1)" x="0.04 5.64 12.55 16.86 22.47" font-family="'DejaVu Sans', 'Liberation Sans', sans-serif" font-size="8.7" fill="#1a1a1a" stroke="#1a1a1a" stroke-width="0.32">15:30</text>
<text transform="translate(491.80 554.3) rotate(-90) scale(1.07 1)" x="0.04 5.64 12.55 16.86 22.47" font-family="'DejaVu Sans', 'Liberation Sans', sans-serif" font-size="8.7" fill="#1a1a1a" stroke="#1a1a1a" stroke-width="0.32">16:00</text>
<text transform="translate(506.80 554.3) rotate(-90) scale(1.07 1)" x="0.04 5.64 12.55 16.86 22.47" font-family="'DejaVu Sans', 'Liberation Sans', sans-serif" font-size="8.7" fill="#1a1a1a" stroke="#1a1a1a" stroke-width="0.32">16:30</text>
<text transform="translate(520.80 554.3) rotate(-90) scale(1.07 1)" x="0.04 5.64 12.55 16.86 22.47" font-family="'DejaVu Sans', 'Liberation Sans', sans-serif" font-size="8.7" fill="#1a1a1a" stroke="#1a1a1a" stroke-width="0.32">17:00</text>
<text transform="translate(534.80 554.3) rotate(-90) scale(1.07 1)" x="0.04 5.64 12.55 16.86 22.47" font-family="'DejaVu Sans', 'Liberation Sans', sans-serif" font-size="8.7" fill="#1a1a1a" stroke="#1a1a1a" stroke-width="0.32">17:30</text>
<text transform="translate(548.80 554.3) rotate(-90) scale(1.07 1)" x="0.04 5.64 12.55 16.86 22.47" font-family="'DejaVu Sans', 'Liberation Sans', sans-serif" font-size="8.7" fill="#1a1a1a" stroke="#1a1a1a" stroke-width="0.32">18:00</text>
<text transform="translate(563.80 554.3) rotate(-90) scale(1.07 1)" x="0.04 5.64 12.55 16.86 22.47" font-family="'DejaVu Sans', 'Liberation Sans', sans-serif" font-size="8.7" fill="#1a1a1a" stroke="#1a1a1a" stroke-width="0.32">18:30</text>
<text transform="translate(577.80 554.3) rotate(-90) scale(1.07 1)" x="0.04 5.64 12.55 16.86 22.47" font-family="'DejaVu Sans', 'Liberation Sans', sans-serif" font-size="8.7" fill="#1a1a1a" stroke="#1a1a1a" stroke-width="0.32">19:00</text>
<text transform="translate(591.80 554.3) rotate(-90) scale(1.07 1)" x="0.04 5.64 12.55 16.86 22.47" font-family="'DejaVu Sans', 'Liberation Sans', sans-serif" font-size="8.7" fill="#1a1a1a" stroke="#1a1a1a" stroke-width="0.32">19:30</text>
<text transform="translate(605.80 554.3) rotate(-90) scale(1.07 1)" x="0.04 5.64 12.55 16.86 22.47" font-family="'DejaVu Sans', 'Liberation Sans', sans-serif" font-size="8.7" fill="#1a1a1a" stroke="#1a1a1a" stroke-width="0.32">20:00</text>
<text transform="translate(620.80 554.3) rotate(-90) scale(1.07 1)" x="0.04 5.64 12.55 16.86 22.47" font-family="'DejaVu Sans', 'Liberation Sans', sans-serif" font-size="8.7" fill="#1a1a1a" stroke="#1a1a1a" stroke-width="0.32">20:30</text>
<text transform="translate(634.80 554.3) rotate(-90) scale(1.07 1)" x="0.04 5.64 12.55 16.86 22.47" font-family="'DejaVu Sans', 'Liberation Sans', sans-serif" font-size="8.7" fill="#1a1a1a" stroke="#1a1a1a" stroke-width="0.32">21:00</text>
<text transform="translate(648.80 554.3) rotate(-90) scale(1.07 1)" x="0.04 5.64 12.55 16.86 22.47" font-family="'DejaVu Sans', 'Liberation Sans', sans-serif" font-size="8.7" fill="#1a1a1a" stroke="#1a1a1a" stroke-width="0.32">21:30</text>
<text transform="translate(662.80 554.3) rotate(-90) scale(1.07 1)" x="0.04 5.64 12.55 16.86 22.47" font-family="'DejaVu Sans', 'Liberation Sans', sans-serif" font-size="8.7" fill="#1a1a1a" stroke="#1a1a1a" stroke-width="0.32">22:00</text>
<text transform="translate(677.80 554.3) rotate(-90) scale(1.07 1)" x="0.04 5.64 12.55 16.86 22.47" font-family="'DejaVu Sans', 'Liberation Sans', sans-serif" font-size="8.7" fill="#1a1a1a" stroke="#1a1a1a" stroke-width="0.32">22:30</text>
<text transform="translate(691.80 554.3) rotate(-90) scale(1.07 1)" x="0.04 5.64 12.55 16.86 22.47" font-family="'DejaVu Sans', 'Liberation Sans', sans-serif" font-size="8.7" fill="#1a1a1a" stroke="#1a1a1a" stroke-width="0.32">23:00</text>
<text transform="translate(705.80 554.3) rotate(-90) scale(1.07 1)" x="0.04 5.64 12.55 16.86 22.47" font-family="'DejaVu Sans', 'Liberation Sans', sans-serif" font-size="8.7" fill="#1a1a1a" stroke="#1a1a1a" stroke-width="0.32">23:30</text>
</svg>
</body></html>
